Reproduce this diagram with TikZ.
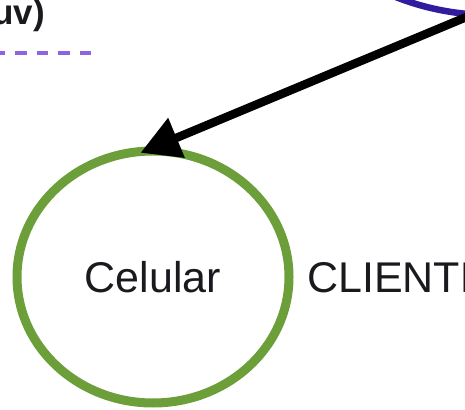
\documentclass[tikz,border=0pt]{standalone}
\usepackage{fontspec}
\setmainfont{Liberation Sans}
\usetikzlibrary{shapes.geometric,arrows.meta}

\definecolor{leafgreen}{RGB}{108,158,58}
\definecolor{inkblue}{RGB}{48,28,158}
\definecolor{lilac}{RGB}{142,100,226}
\definecolor{textdark}{RGB}{25,25,30}

\tikzset{
  device/.style={ellipse, draw=leafgreen, line width=9pt, minimum width=272pt,
    minimum height=252pt, inner sep=0pt, outer sep=0pt, text=textdark,
    font=\fontsize{43}{50}\selectfont},
  service/.style={circle, draw=inkblue, line width=6.5pt, minimum size=520pt,
    inner sep=0pt, outer sep=0pt},
  flow/.style={draw=black, line width=8.5pt, -{Triangle[length=39pt,width=41pt]}},
  plainlabel/.style={inner sep=0pt, text=textdark},
  legendline/.style={draw=lilac, line width=3.5pt, dash pattern=on 11.5pt off 10pt}
}

\begin{document}
\begin{tikzpicture}[x=1pt,y=1pt]
  \useasboundingbox (0,0) rectangle (465,409);
  \clip (0,0) rectangle (465,409);

  % large service node, mostly outside the frame
  \node[service] (srv) at (491,654) {};

  % phone node and its role label
  \node[device] (cel) at (153,132) {Celular};
  \node[plainlabel, anchor=base west, font=\fontsize{43}{50}\selectfont]
    (role) at (307,116) {CLIENTE};

  % bold heading fragment and dashed legend line
  \node[plainlabel, anchor=base east, font=\bfseries\fontsize{35}{40}\selectfont]
    (head) at (45,384) {uv)};
  \coordinate (legA) at (-6.5,356);
  \coordinate (legB) at (91,356);
  \draw[legendline] (legA) -- (legB);

  % request from the service to the phone
  \coordinate (src) at (srv.266.7);
  \draw[flow, shorten >=-4pt] (src) -- (cel.94);
\end{tikzpicture}
\end{document}
